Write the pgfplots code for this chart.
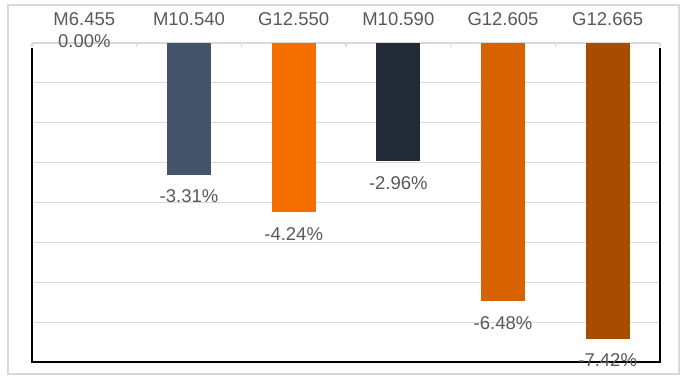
\documentclass[border=0pt]{standalone}
\usepackage{pgfplots}
\pgfplotsset{compat=1.18}
\usepackage{fontspec}
\setmainfont{Liberation Sans}
\definecolor{txt}{HTML}{595959}
\definecolor{grd}{HTML}{D9D9D9}
\definecolor{c1}{HTML}{44546A}
\definecolor{c2}{HTML}{F46E00}
\definecolor{c3}{HTML}{222A35}
\definecolor{c4}{HTML}{D96200}
\definecolor{c5}{HTML}{A84D00}
\pgfplotsset{
  mybar/.style={ybar, bar width=44bp, bar shift=0pt, draw=none, fill=#1,
    nodes near coords={\pgfmathprintnumber[fixed,fixed zerofill,precision=2,assume math mode=true]{\pgfplotspointmeta}\%},
    nodes near coords style={font=\fontsize{18.5bp}{21bp}\selectfont, text=txt, anchor=base, yshift=-28bp}},
}
\begin{document}
\begin{tikzpicture}
\path[use as bounding box] (-32bp,-24bp) rectangle (652bp,362bp);
\draw[grd, line width=1.2bp] (-24bp,-12bp) rectangle (647bp,357bp);
\begin{axis}[
  at={(0,0)}, anchor=south west, scale only axis,
  width=628bp, height=319bp,
  xmin=-0.5, xmax=5.5, ymin=-8, ymax=0,
  axis line style={draw=none},
  xtick={0,...,5},
  xticklabels={M6.455,M10.540,G12.550,M10.590,G12.605,G12.665},
  minor xtick={-0.5,0.5,...,5.5},
  xtick pos=right, xticklabel pos=right,
  tick align=inside,
  major tick length=0pt, minor tick length=4bp,
  every tick/.style={grd, line width=1.2bp},
  ytick={-8,-7,...,0}, yticklabels={},
  ytick style={draw=none},
  ymajorgrids, grid style={grd, line width=1.2bp},
  xticklabel style={font=\fontsize{18.5bp}{21bp}\selectfont, text=txt, anchor=base, yshift=18bp},
  clip=false,
]
\addplot[mybar=c1, nodes near coords style={yshift=24bp}] coordinates {(0,0)};
\addplot[mybar=c1] coordinates {(1,-3.31)};
\addplot[mybar=c2] coordinates {(2,-4.24)};
\addplot[mybar=c3] coordinates {(3,-2.96)};
\addplot[mybar=c4] coordinates {(4,-6.48)};
\addplot[mybar=c5] coordinates {(5,-7.42)};
\draw[black, line width=2bp] (rel axis cs:0,0.984) -- (rel axis cs:0,0) -- (rel axis cs:1,0) -- (rel axis cs:1,0.984);
\end{axis}
\end{tikzpicture}
\end{document}
